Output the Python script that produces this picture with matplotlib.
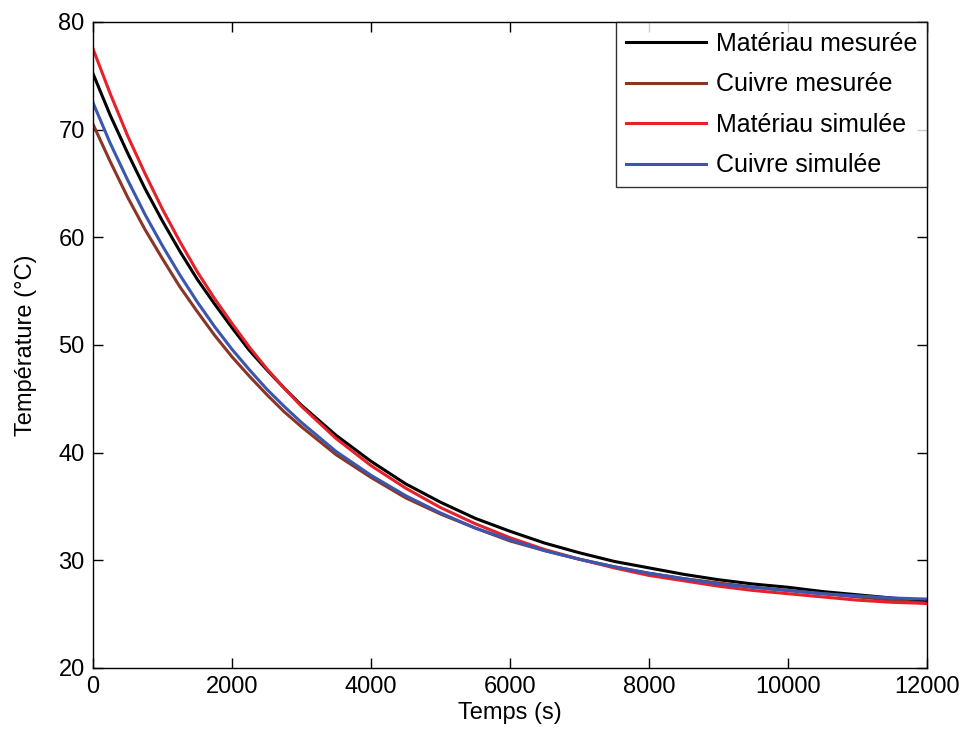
import matplotlib
matplotlib.use("Agg")
import matplotlib.pyplot as plt

# Time axis (s)
temps = [0, 250, 500, 750, 1000, 1250, 1500, 1750, 2000, 2250, 2500, 2750,
         3000, 3500, 4000, 4500, 5000, 5500, 6000, 6500, 7000, 7500, 8000,
         8500, 9000, 9500, 10000, 10500, 11000, 11500, 12000]

# Temperatures (°C)
materiau_mesure = [75.2, 71.3, 67.8, 64.5, 61.5, 58.7, 56.1, 53.8, 51.6, 49.5,
                   47.7, 46.0, 44.4, 41.6, 39.2, 37.1, 35.4, 33.9, 32.7, 31.6,
                   30.7, 29.9, 29.3, 28.7, 28.2, 27.8, 27.5, 27.1, 26.8, 26.5,
                   26.2]
cuivre_mesure = [70.5, 67.0, 63.7, 60.7, 58.0, 55.4, 53.1, 50.9, 48.9, 47.1,
                 45.4, 43.8, 42.4, 39.8, 37.7, 35.8, 34.3, 33.0, 31.8, 30.9,
                 30.1, 29.4, 28.8, 28.3, 27.9, 27.5, 27.2, 26.9, 26.6, 26.3,
                 26.0]
materiau_simule = [77.5, 73.3, 69.4, 65.9, 62.6, 59.6, 56.8, 54.3, 52.0, 49.8,
                   47.8, 46.0, 44.3, 41.3, 38.8, 36.7, 34.9, 33.4, 32.1, 31.0,
                   30.1, 29.3, 28.6, 28.1, 27.6, 27.2, 26.9, 26.6, 26.3, 26.1,
                   26.0]
cuivre_simule = [72.5, 68.7, 65.3, 62.1, 59.2, 56.5, 54.0, 51.7, 49.6, 47.7,
                 45.9, 44.3, 42.8, 40.1, 37.9, 36.0, 34.4, 33.0, 31.9, 30.9,
                 30.1, 29.4, 28.8, 28.3, 27.8, 27.5, 27.2, 26.9, 26.7, 26.5,
                 26.4]

labels = ["Matériau mesurée", "Cuivre mesurée", "Matériau simulée", "Cuivre simulée"]
colors = ["#000000", "#8b3526", "#e8202a", "#3a57b0"]

plt.rcParams["font.family"] = ["Liberation Sans", "DejaVu Sans"]

fig = plt.figure(figsize=(9.64, 7.4), dpi=100)
ax = fig.add_axes([0.0965, 0.0973, 0.865, 0.873])

series = [materiau_mesure, cuivre_mesure, materiau_simule, cuivre_simule]
for vals, lab, col in zip(series, labels, colors):
    ax.plot(temps, vals, color=col, lw=2.2, label=lab)

ax.set_xlim(0, 12000)
ax.set_ylim(20, 80)
ax.set_xticks(range(0, 12001, 2000))
ax.set_yticks(range(20, 81, 10))
ax.tick_params(direction="in", length=7, width=1, top=True, right=True,
               labelsize=17, pad=6)
for s in ax.spines.values():
    s.set_linewidth(1)

ax.set_xlabel("Temps (s)", fontsize=17, labelpad=3)
ax.set_ylabel("Température (°C)", fontsize=17, labelpad=15)

leg = ax.legend(loc="upper right", fontsize=18, frameon=True, fancybox=False,
                edgecolor="black", borderaxespad=0, handlelength=3.2,
                handletextpad=0.4, labelspacing=0.66, borderpad=0.4)
leg.get_frame().set_linewidth(1)

fig.savefig("out.png", dpi=100)
